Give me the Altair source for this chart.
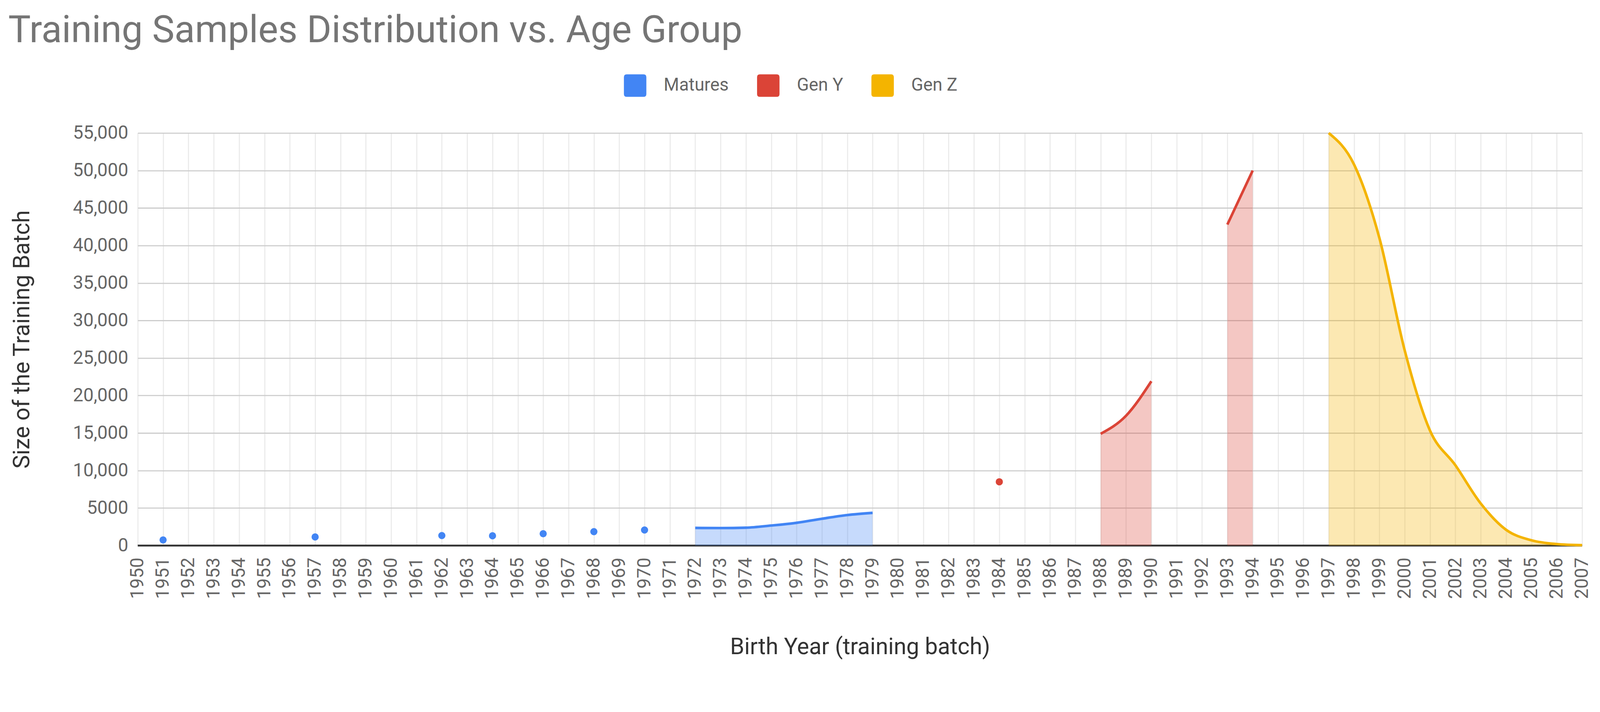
import altair as alt
import pandas as pd

# ---- data ----
series_names = ["Matures", "Gen Y", "Gen Z"]
series_colors = ["#4285F4", "#DB4437", "#F4B400"]

matures_years = [1951, 1957, 1962, 1964, 1966, 1968, 1970,
                 1972, 1973, 1974, 1975, 1976, 1977, 1978, 1979]
matures_values = [740, 1150, 1330, 1300, 1575, 1850, 2070,
                  2350, 2330, 2380, 2670, 3030, 3575, 4065, 4360]

geny_years = [1984, 1988, 1989, 1990, 1993, 1994]
geny_values = [8500, 14900, 17300, 21900, 42800, 50000]

genz_years = [1997, 1998, 1999, 2000, 2001, 2002, 2003, 2004, 2005, 2006, 2007]
genz_values = [55000, 50800, 41000, 26000, 15300, 10700, 5600, 2100, 700, 200, 50]

year_ticks = list(range(1950, 2008))
value_ticks = list(range(0, 55001, 5000))

# ---- build a table: consecutive years form a segment ----
rows = []
for name, yrs, vals in [("Matures", matures_years, matures_values),
                        ("Gen Y", geny_years, geny_values),
                        ("Gen Z", genz_years, genz_values)]:
    runs = []
    for yr, v in zip(yrs, vals):
        if runs and yr == runs[-1][-1][0] + 1:
            runs[-1].append((yr, v))
        else:
            runs.append([(yr, v)])
    for k, run in enumerate(runs):
        for yr, v in run:
            rows.append({"year": yr, "value": v, "series": name,
                         "segment": f"{name}-{k}", "n": len(run)})
df = pd.DataFrame(rows)

FONT = "Roboto"

x_enc = alt.X(
    "year:Q",
    scale=alt.Scale(domain=[year_ticks[0], year_ticks[-1]], nice=False, zero=False),
    axis=alt.Axis(
        values=year_ticks, format="d", labelAngle=270, labelFont=FONT,
        labelFontSize=50, labelColor="#666666", labelPadding=32,
        ticks=False, tickSize=0, domain=False, grid=True,
        gridColor="#ebebeb", gridWidth=3, labelOverlap=False,
        labelBound=False, labelFlush=False,
        title="Birth Year (training batch)", titleFont=FONT,
        titleFontSize=62, titleFontWeight="normal", titleColor="#333333",
        titlePadding=100,
    ),
)
y_enc = alt.Y(
    "value:Q",
    stack=None,
    scale=alt.Scale(domain=[0, 55000], nice=False),
    axis=alt.Axis(
        values=value_ticks,
        labelExpr="datum.value >= 10000 ? format(datum.value, ',') : format(datum.value, 'd')",
        labelFont=FONT, labelFontSize=50, labelColor="#666666",
        labelPadding=26, ticks=False, tickSize=0, domain=False, grid=True,
        gridColor="#cccccc", gridWidth=3, labelOverlap=False,
        title="Size of the Training Batch", titleFont=FONT,
        titleFontSize=62, titleFontWeight="normal", titleColor="#333333",
        titlePadding=105,
    ),
)

color_scale = alt.Scale(domain=series_names, range=series_colors)
legend_symbol = ("M-0.75,-1 H0.75 Q1,-1 1,-0.75 V0.75 Q1,1 0.75,1 H-0.75 "
                 "Q-1,1 -1,0.75 V-0.75 Q-1,-1 -0.75,-1 Z")

base = alt.Chart(df)

baseline = alt.Chart(pd.DataFrame({"value": [0]})).mark_rule(
    color="#333333", strokeWidth=5
).encode(y=y_enc)

areas = base.transform_filter("datum.n > 1").mark_area(
    interpolate="monotone", fillOpacity=0.3
).encode(
    x=x_enc, y=y_enc,
    color=alt.Color(
        "series:N", scale=color_scale,
        legend=alt.Legend(
            title=None, orient="none", legendX=1318, legendY=-159,
            direction="horizontal", symbolType=legend_symbol,
            symbolSize=3700, symbolOpacity=1, symbolStrokeWidth=0,
            labelFont=FONT, labelFontSize=48, labelColor="#666666",
            labelOffset=47, labelLimit=0, columnPadding=76, padding=0,
        ),
    ),
    detail="segment:N",
)

lines = base.transform_filter("datum.n > 1").mark_line(
    interpolate="monotone", strokeWidth=7
).encode(
    x=x_enc, y=y_enc,
    color=alt.Color("series:N", scale=color_scale, legend=None),
    detail="segment:N",
)

points = base.transform_filter("datum.n == 1").mark_circle(
    size=380, opacity=1
).encode(
    x=x_enc, y=y_enc,
    color=alt.Color("series:N", scale=color_scale, legend=None),
)

chart = alt.layer(baseline, areas, lines, points).properties(
    width=3916,
    height=1118,
    title=alt.TitleParams(
        text="Training Samples Distribution vs. Age Group",
        anchor="start", frame="group", dx=-351, offset=-15,
        font=FONT, fontSize=102, fontWeight="normal",
        color="#757575", baseline="alphabetic",
    ),
    autosize=alt.AutoSizeParams(type="none"),
    padding={"left": 365, "top": 299, "right": 40, "bottom": 378},
).configure_view(stroke=None).configure(background="white")

chart.save("out.html", embed_options={"renderer": "svg", "actions": False})
